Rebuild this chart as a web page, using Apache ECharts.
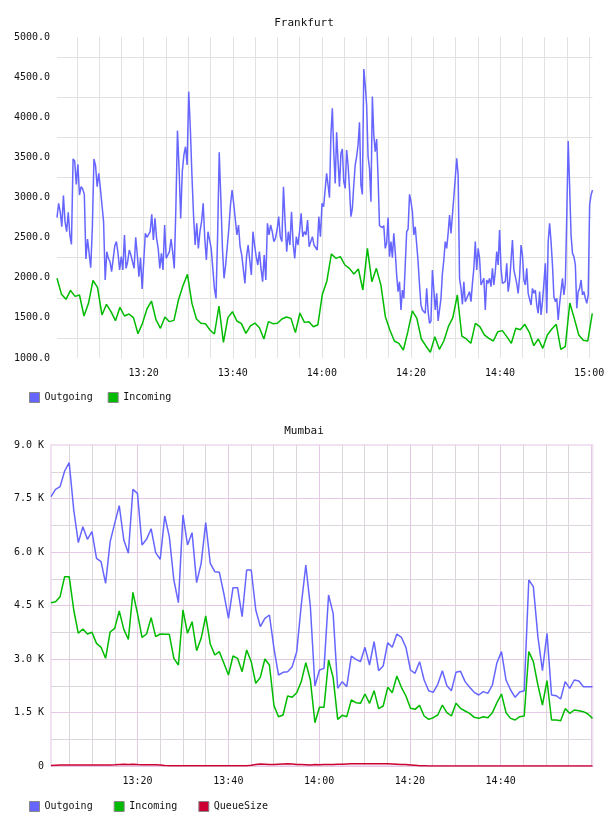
<!DOCTYPE html>
<html>
<head>
<meta charset="utf-8">
<script src="https://cdn.jsdelivr.net/npm/echarts@6/dist/echarts.min.js"></script>
<style>
  html, body { margin: 0; padding: 0; background: #fff; }
  #main { width: 608px; height: 816px; }
</style>
</head>
<body>
<div id="main"></div>
<script>
const FONT = 'DejaVu Sans Mono';

// times are minutes after 13:00
const fraOutFirstStart = 0.55;
const fraOutFirstEnd = 60.76;
const fraOutFirst = [
  2749, 2927, 2823, 2636, 3023, 2699, 2574, 2815, 2533, 2416,
  3480, 3455, 3164, 3413, 3031, 3135, 3106, 3039, 2234, 2483,
  2491, 2126, 2616, 3480, 3397, 3135, 3301, 3114, 3093, 2699,
  1972, 2325, 2242, 2200, 2076, 2084, 2400, 2450, 2304, 2097,
  2263, 2097, 2533, 2117, 2200, 2346, 2284, 2263, 2117, 2504,
  2284, 2014, 2250, 1860, 1847, 2553, 2504, 2512, 2574, 2790,
  2470, 2740, 2491, 2366, 2117, 2304, 2097, 2657, 2242, 2284,
  2325, 2483, 2325, 2117, 2865, 3833, 3363, 2740, 3322, 3530,
  3633, 3405, 4319, 3862, 3280, 2782, 2408, 2678, 2366, 2574,
  2699, 2927, 2491, 2221, 2574, 2595, 2366, 2117, 1868, 1743,
  2533, 3563, 2990, 2366, 1993, 2159, 2180, 2616, 2907, 3093,
  2927, 2907, 2533, 2657, 2387, 2284, 2304, 1930, 2263, 2408,
  2221, 2034, 2574, 2408, 2263, 2159, 2325, 2117, 1951, 2284,
  1972, 2678, 2533, 2657, 2574, 2450, 2491, 2595, 2761, 2512,
  2450, 3135, 2699, 2325, 2574, 2408, 2823, 2429, 2242, 2512,
  2408, 2574, 2803, 2512, 2574, 2533, 2720, 2387, 2450, 2512,
  2408, 2429, 2346, 2761, 2512, 2927, 2886, 2898
];
const fraOutSecondStart = 61.07;
const fraOutSecondEnd = 120.75;
const fraOutSecond = [
  3301, 3156, 2998, 3779, 4111, 3571, 3176, 3812, 3446, 3135,
  3550, 3604, 3197, 3114, 3592, 3405, 3114, 2761, 2865, 3156,
  3405, 3509, 3654, 3937, 3156, 3039, 4601, 4402, 4153, 3509,
  3363, 2948, 4257, 3779, 3571, 3729, 3239, 2649, 2666, 2624,
  2649, 2366, 2429, 2749, 2263, 2450, 2250, 2553, 2325, 2034,
  1827, 1951, 1598, 1847, 1743, 2159, 2574, 2607, 3039, 2948,
  2823, 2533, 2636, 2616, 2200, 1910, 1660, 1598, 1619, 1557,
  1868, 1577, 1432, 1461, 2097, 2097, 1598, 1806, 1461, 1473,
  1743, 2055, 2221, 2450, 2366, 2553, 2782, 2553, 2782, 2761,
  3239, 3488, 3280, 1993, 1868, 1669, 1951, 1702, 1743, 1785,
  1827, 1702, 1930, 2117, 2450, 2097, 2366, 2242, 1910, 1951,
  1993, 1598, 1972, 1930, 1993, 1889, 2117, 1910, 2076, 2325,
  2159, 2595, 2117, 1930, 1930, 1951, 2180, 1827, 1951, 1951,
  2470, 2097, 2097, 1930, 1806, 2014, 2408, 2284, 1972, 1910,
  2117, 1806, 1827, 1660, 1868, 1806, 1847, 1660, 1557, 1827,
  1536, 1702, 1930, 2180, 1557, 2450, 2678, 2450, 2159, 1764,
  1702, 1743, 1473, 1681, 1702, 1993, 1785, 1930, 2782, 3704,
  3135, 2533, 2304, 2263, 2159, 1619, 1827, 1868, 1972, 1785,
  1827, 1743, 1681, 1785, 2907, 3031, 3093
];
const fraInStart = 0.55;
const fraInEnd = 120.7;
const fraIn = [
  1993, 1793, 1731, 1843, 1768, 1785, 1523, 1681, 1968, 1881,
  1536, 1669, 1577, 1465, 1631, 1523, 1548, 1503, 1303, 1432,
  1611, 1710, 1478, 1370, 1511, 1453, 1469, 1723, 1901, 2043,
  1681, 1486, 1432, 1428, 1349, 1299, 1648, 1195, 1503, 1577,
  1461, 1428, 1307, 1399, 1436, 1378, 1237, 1453, 1428, 1432,
  1486, 1511, 1494, 1316, 1561, 1444, 1453, 1390, 1415, 1795,
  1960, 2296, 2242, 2263, 2159, 2117, 2047, 2109, 1847, 2367,
  1951, 2117, 1910, 1515, 1349, 1212, 1183, 1100, 1328, 1586,
  1494, 1237, 1150, 1071, 1266, 1108, 1212, 1390, 1503, 1785,
  1274, 1237, 1183, 1432, 1390, 1287, 1245, 1212, 1328, 1341,
  1266, 1183, 1370, 1353, 1420, 1320, 1154, 1237, 1120, 1287,
  1361, 1420, 1108, 1141, 1685, 1494, 1287, 1220, 1212, 1557
];
const fraTickLabels = ['13:20', '13:40', '14:00', '14:20', '14:40', '15:00'];

const mumStart = 0.92;
const mumEnd = 120.24;
const mumOut = [
  7552, 7757, 7832, 8271, 8505, 7178, 6262, 6710, 6355, 6570,
  5823, 5729, 5122, 6290, 6804, 7299, 6337, 5963, 7757, 7645,
  6196, 6355, 6654, 5981, 5795, 7010, 6430, 5215, 4580, 7038,
  6196, 6542, 5140, 5682, 6823, 5682, 5449, 5430, 4823, 4140,
  5000, 5000, 4187, 5495, 5495, 4374, 3907, 4140, 4234, 3299,
  2551, 2626, 2645, 2785, 3206, 4514, 5636, 4467, 2243, 2692,
  2738, 4794, 4280, 2178, 2365, 2224, 3084, 2991, 2925, 3327,
  2832, 3486, 2673, 2804, 3458, 3327, 3701, 3608, 3327, 2692,
  2598, 2925, 2411, 2112, 2065, 2290, 2673, 2252, 2112, 2626,
  2654, 2365, 2206, 2065, 1991, 2084, 2037, 2271, 2897, 3206,
  2411, 2131, 1925, 2075, 2112, 5215, 5028, 3626, 2673, 3720,
  1991, 1972, 1879, 2365, 2178, 2411, 2383, 2224, 2224, 2224
];
const mumIn = [
  4580, 4608, 4748, 5309, 5309, 4374, 3720, 3841, 3701, 3748,
  3439, 3327, 3019, 3757, 3860, 4346, 3832, 3551, 4869, 4280,
  3608, 3701, 4159, 3626, 3701, 3692, 3692, 3019, 2832, 4374,
  3720, 4047, 3234, 3580, 4206, 3421, 3112, 3206, 2879, 2551,
  3084, 3019, 2645, 3252, 2925, 2318, 2486, 3000, 2832, 1692,
  1383, 1430, 1963, 1925, 2056, 2365, 2897, 2411, 1215, 1645,
  1645, 2972, 2486, 1308, 1421, 1383, 1850, 1776, 1757, 2019,
  1757, 2112, 1608, 1682, 2206, 2056, 2523, 2206, 1963, 1617,
  1589, 1701, 1402, 1308, 1355, 1430, 1710, 1495, 1402, 1757,
  1617, 1542, 1477, 1365, 1336, 1383, 1355, 1495, 1776, 2019,
  1495, 1336, 1290, 1383, 1402, 3206, 2925, 2271, 1710, 2393,
  1290, 1290, 1271, 1608, 1477, 1570, 1551, 1523, 1458, 1336
];
const mumQueue = [
  15, 20, 25, 30, 30, 30, 25, 25, 30, 30,
  30, 30, 30, 30, 35, 45, 50, 45, 50, 40,
  35, 35, 35, 35, 30, 15, 10, 5, 5, 5,
  5, 5, 5, 5, 5, 5, 5, 5, 5, 5,
  5, 5, 5, 10, 20, 45, 55, 50, 45, 45,
  50, 55, 60, 55, 45, 40, 35, 30, 40, 35,
  40, 45, 45, 50, 50, 55, 60, 60, 60, 60,
  65, 65, 65, 60, 60, 55, 50, 45, 40, 30,
  20, 10, 5, 0, 0, 0, 0, 0, 0, 0,
  0, 0, 0, 0, 0, 0, 0, 0, 0, 0,
  0, 0, 0, 0, 0, 0, 0, 0, 0, 0,
  0, 0, 0, 0, 0, 0, 0, 0, 0, 0
];
const mumTickLabels = ['13:20', '13:40', '14:00', '14:20', '14:40'];

const colors = { Outgoing: '#6666ff', Incoming: '#00bb00', QueueSize: '#cc0033' };

// spread a list of samples evenly between two times
function spread(values, t0, t1) {
  const step = (t1 - t0) / (values.length - 1);
  return values.map((v, i) => [t0 + i * step, v]);
}

function hhmm(v) {
  const total = Math.round(v);
  const h = 13 + Math.floor(total / 60);
  const m = total % 60;
  return h + ':' + String(m).padStart(2, '0');
}

const chart = echarts.init(document.getElementById('main'));

const labelText = { fontFamily: FONT, fontSize: 10, color: '#111' };
const fraGrid = '#e2e2e2';
const mumMinor = '#dcd6dc';
const mumMajor = '#e4c8e4';

function line(name, data, xi, yi) {
  return {
    name: name,
    type: 'line',
    xAxisIndex: xi,
    yAxisIndex: yi,
    data: data,
    symbol: 'none',
    lineStyle: { width: 1.5, color: colors[name] },
    itemStyle: { color: colors[name] }
  };
}

const legendBase = {
  icon: 'rect',
  itemWidth: 10,
  itemHeight: 10,
  selectedMode: false,
  itemStyle: { borderColor: '#888', borderWidth: 1 },
  textStyle: { fontFamily: FONT, fontSize: 10, color: '#111' }
};

const option = {
  animation: false,
  title: [
    { text: 'Frankfurt', left: 'center', top: 13,
      textStyle: { fontFamily: FONT, fontSize: 11, fontWeight: 'normal', color: '#111' } },
    { text: 'Mumbai', left: 'center', top: 421,
      textStyle: { fontFamily: FONT, fontSize: 11, fontWeight: 'normal', color: '#111' } }
  ],
  legend: [
    Object.assign({ data: ['Outgoing', 'Incoming'], left: 24, top: 387, itemGap: 15 }, legendBase),
    Object.assign({ data: ['Outgoing', 'Incoming', 'QueueSize'], left: 24, top: 796, itemGap: 21 }, legendBase)
  ],
  grid: [
    { left: 57, top: 37, width: 535.5, height: 321 },
    { left: 51, top: 445, width: 541.5, height: 321, show: true,
      borderColor: '#f0e2f0', borderWidth: 2 }
  ],
  xAxis: [
    {
      type: 'value', gridIndex: 0, position: 'bottom',
      min: fraOutFirstStart, max: fraOutSecondEnd,
      minInterval: 5, maxInterval: 5,
      axisLine: { show: false }, axisTick: { show: false },
      splitLine: { show: true, showMinLine: false, showMaxLine: false, lineStyle: { color: fraGrid } },
      axisLabel: Object.assign({
        margin: 10,
        formatter: v => fraTickLabels.includes(hhmm(v)) ? hhmm(v) : ''
      }, labelText)
    },
    {
      type: 'value', gridIndex: 1, position: 'bottom',
      min: mumStart, max: mumEnd,
      minInterval: 5, maxInterval: 5,
      axisLine: { show: false }, axisTick: { show: false }, axisLabel: { show: false },
      splitLine: { show: true, showMinLine: false, showMaxLine: false, lineStyle: { color: mumMinor } }
    },
    {
      type: 'value', gridIndex: 1, position: 'bottom',
      min: mumStart, max: mumEnd,
      minInterval: 20, maxInterval: 20,
      axisLine: { show: false }, axisTick: { show: false },
      splitLine: { show: true, showMinLine: false, showMaxLine: false, lineStyle: { color: mumMajor } },
      axisLabel: Object.assign({
        margin: 10,
        formatter: v => mumTickLabels.includes(hhmm(v)) ? hhmm(v) : ''
      }, labelText)
    }
  ],
  yAxis: [
    {
      type: 'value', gridIndex: 0,
      min: 1000, max: 5000, interval: 500,
      axisLine: { show: false }, axisTick: { show: false },
      splitLine: { show: false },
      minorTick: { show: false, splitNumber: 2 },
      minorSplitLine: { show: true, lineStyle: { color: fraGrid } },
      axisLabel: Object.assign({ margin: 7, formatter: v => v.toFixed(1) }, labelText)
    },
    {
      type: 'value', gridIndex: 1,
      min: 0, max: 9000, interval: 1500,
      axisLine: { show: false }, axisTick: { show: false },
      splitLine: { show: true, showMaxLine: false, lineStyle: { color: mumMajor } },
      minorTick: { show: false, splitNumber: 2 },
      minorSplitLine: { show: true, lineStyle: { color: mumMinor } },
      axisLabel: Object.assign({
        margin: 7,
        formatter: v => v === 0 ? '0' : (v / 1000).toFixed(1) + ' K'
      }, labelText)
    }
  ],
  series: [
    line('Outgoing', spread(fraOutFirst, fraOutFirstStart, fraOutFirstEnd)
      .concat(spread(fraOutSecond, fraOutSecondStart, fraOutSecondEnd)), 0, 0),
    line('Incoming', spread(fraIn, fraInStart, fraInEnd), 0, 0),
    line('Outgoing', spread(mumOut, mumStart, mumEnd), 1, 1),
    line('Incoming', spread(mumIn, mumStart, mumEnd), 1, 1),
    line('QueueSize', spread(mumQueue, mumStart, mumEnd), 1, 1)
  ]
};

chart.setOption(option);
</script>
</body>
</html>
